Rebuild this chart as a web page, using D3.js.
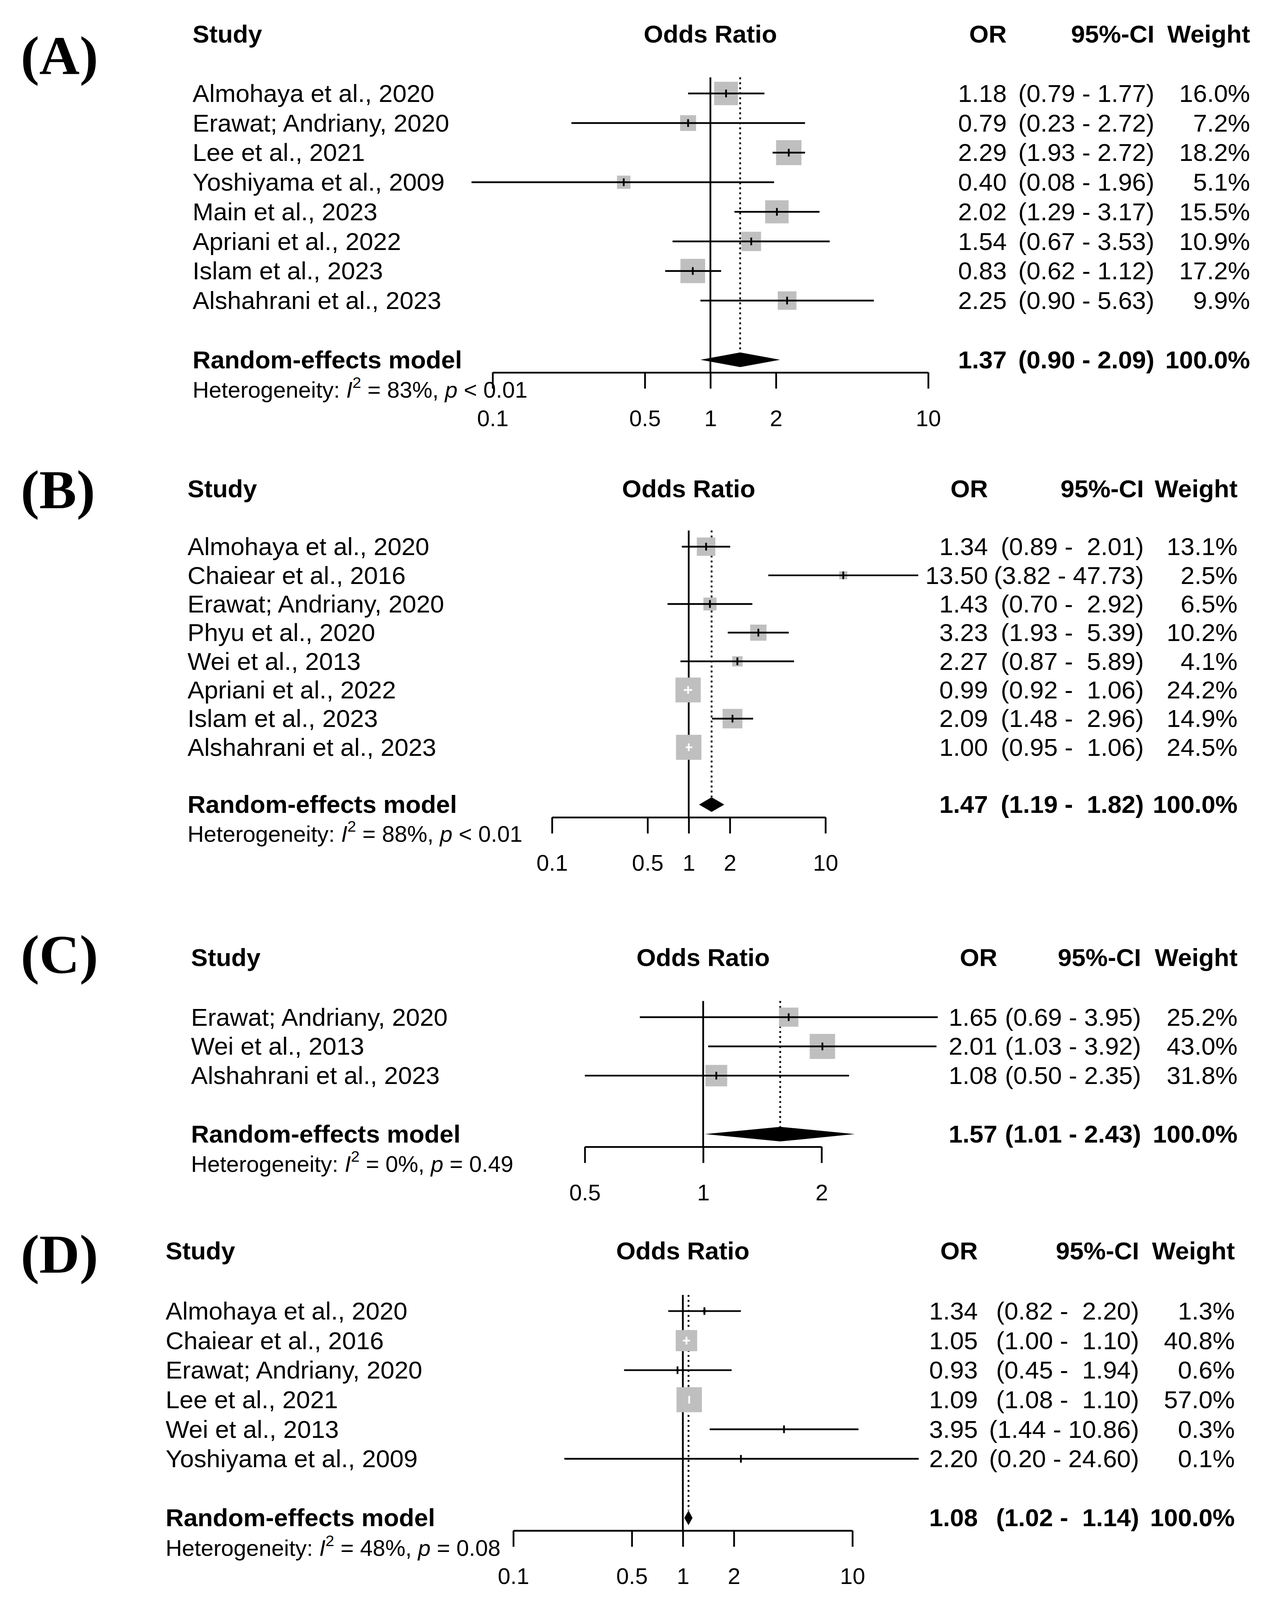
<!DOCTYPE html>
<html>
<head>
<meta charset="utf-8">
<script src="https://cdn.jsdelivr.net/npm/d3@7.9.0/dist/d3.min.js"></script>
<style>
    html, body { margin: 0; padding: 0; background: #fff; overflow: hidden; width: 100%; height: 100%; }
    #chart { width: 100vw; height: 100vh; }
    #chart svg { display: block; width: 100vw; height: 100vh; }
    svg text { white-space: pre; }
</style>
</head>
<body>
<div id="chart"></div>
<script>
// ---- data ----
// (A)
var studiesA = ['Almohaya et al., 2020', 'Erawat; Andriany, 2020', 'Lee et al., 2021', 'Yoshiyama et al., 2009',
    'Main et al., 2023', 'Apriani et al., 2022', 'Islam et al., 2023', 'Alshahrani et al., 2023']
var orA = [1.18, 0.79, 2.29, 0.40, 2.02, 1.54, 0.83, 2.25]
var lowerA = [0.79, 0.23, 1.93, 0.08, 1.29, 0.67, 0.62, 0.90]
var upperA = [1.77, 2.72, 2.72, 1.96, 3.17, 3.53, 1.12, 5.63]
var weightA = [16.0, 7.2, 18.2, 5.1, 15.5, 10.9, 17.2, 9.9]
var pooledA = [1.37, 0.90, 2.09]
var hetA = ['83%', '<', '0.01']
var ticksA = [0.1, 0.5, 1, 2, 10]

// (B)
var studiesB = ['Almohaya et al., 2020', 'Chaiear et al., 2016', 'Erawat; Andriany, 2020', 'Phyu et al., 2020',
    'Wei et al., 2013', 'Apriani et al., 2022', 'Islam et al., 2023', 'Alshahrani et al., 2023']
var orB = [1.34, 13.50, 1.43, 3.23, 2.27, 0.99, 2.09, 1.00]
var lowerB = [0.89, 3.82, 0.70, 1.93, 0.87, 0.92, 1.48, 0.95]
var upperB = [2.01, 47.73, 2.92, 5.39, 5.89, 1.06, 2.96, 1.06]
var weightB = [13.1, 2.5, 6.5, 10.2, 4.1, 24.2, 14.9, 24.5]
var pooledB = [1.47, 1.19, 1.82]
var hetB = ['88%', '<', '0.01']
var ticksB = [0.1, 0.5, 1, 2, 10]

// (C)
var studiesC = ['Erawat; Andriany, 2020', 'Wei et al., 2013', 'Alshahrani et al., 2023']
var orC = [1.65, 2.01, 1.08]
var lowerC = [0.69, 1.03, 0.50]
var upperC = [3.95, 3.92, 2.35]
var weightC = [25.2, 43.0, 31.8]
var pooledC = [1.57, 1.01, 2.43]
var hetC = ['0%', '=', '0.49']
var ticksC = [0.5, 1, 2]

// (D)
var studiesD = ['Almohaya et al., 2020', 'Chaiear et al., 2016', 'Erawat; Andriany, 2020', 'Lee et al., 2021',
    'Wei et al., 2013', 'Yoshiyama et al., 2009']
var orD = [1.34, 1.05, 0.93, 1.09, 3.95, 2.20]
var lowerD = [0.82, 1.00, 0.45, 1.08, 1.44, 0.20]
var upperD = [2.20, 1.10, 1.94, 1.10, 10.86, 24.60]
var weightD = [1.3, 40.8, 0.6, 57.0, 0.3, 0.1]
var pooledD = [1.08, 1.02, 1.14]
var hetD = ['48%', '=', '0.08']
var ticksD = [0.1, 0.5, 1, 2, 10]

// ---- layout (pixel positions per panel) ----
var panels = [
    { tag: '(A)', tagY: 193, labelX: 493, headY: 111, row0: 243, step: 76.9, x0: 1261, x1: 2376, orX: 2577, ciX: 2955, wX: 3200,
      studies: studiesA, or: orA, lo: lowerA, hi: upperA, w: weightA, pooled: pooledA, het: hetA, ticks: ticksA },
    { tag: '(B)', tagY: 1321, labelX: 480, headY: 1293, row0: 1421, step: 74.5, x0: 1413, x1: 2113, orX: 2529, ciX: 2928, wX: 3168,
      studies: studiesB, or: orB, lo: lowerB, hi: upperB, w: weightB, pooled: pooledB, het: hetB, ticks: ticksB },
    { tag: '(C)', tagY: 2529, labelX: 489, headY: 2511, row0: 2644, step: 76, x0: 1497, x1: 2103, orX: 2553, ciX: 2921, wX: 3168,
      studies: studiesC, or: orC, lo: lowerC, hi: upperC, w: weightC, pooled: pooledC, het: hetC, ticks: ticksC },
    { tag: '(D)', tagY: 3308, labelX: 424, headY: 3274, row0: 3408, step: 76.8, x0: 1314, x1: 2182, orX: 2503, ciX: 2916, wX: 3161,
      studies: studiesD, or: orD, lo: lowerD, hi: upperD, w: weightD, pooled: pooledD, het: hetD, ticks: ticksD }
]

var W = 3251, H = 4159
var SANS = 'Liberation Sans, Arial, Helvetica, sans-serif'
var SERIF = 'Liberation Serif, Times New Roman, serif'
var FS = 64, FS_SMALL = 58
var SQ_MAX = 65, DIA_H = 19, LW = 4.5
var GRAY = '#bfbfbf'

var f2 = d3.format('.2f')
var f1 = d3.format('.1f')

// the drawing is laid out on a 3251 x 4159 grid and stretched to whatever the viewport really is
var svg = d3.select('#chart').append('svg')
    .attr('viewBox', '0 0 ' + W + ' ' + H)
    .attr('preserveAspectRatio', 'none')
    .style('background', '#fff')

function txt(g, x, y, s, anchor, bold, size) {
    return g.append('text')
        .attr('x', x).attr('y', y)
        .attr('text-anchor', anchor || 'start')
        .attr('font-family', SANS)
        .attr('font-size', size || FS)
        .attr('font-weight', bold ? 'bold' : 'normal')
        .attr('fill', '#000')
        .text(s)
}

function pad(s, n) {
    while (s.length < n) s = ' ' + s
    return s
}

function drawPanel(p) {
    var g = svg.append('g')
    var n = p.studies.length
    var x = d3.scaleLog().domain([p.ticks[0], p.ticks[p.ticks.length - 1]]).range([p.x0, p.x1])

    var reY = p.row0 + (n + 1) * p.step
    var hetY = reY + p.step + 1
    var axisY = reY + 33
    var refTop = p.row0 - 42
    var wmax = d3.max(p.w)

    var loLen = d3.max(p.lo.concat([p.pooled[1]]), function (v) { return f2(v).length })
    var hiLen = d3.max(p.hi.concat([p.pooled[2]]), function (v) { return f2(v).length })
    function ci(lo, hi) { return '(' + pad(f2(lo), loLen) + ' - ' + pad(f2(hi), hiLen) + ')' }

    // panel tag
    g.append('text')
        .attr('x', 53).attr('y', p.tagY)
        .attr('font-family', SERIF).attr('font-weight', 'bold').attr('font-size', 143)
        .text(p.tag)

    // headers
    txt(g, p.labelX, p.headY, 'Study', 'start', true)
    txt(g, x(Math.sqrt(p.ticks[0] * p.ticks[p.ticks.length - 1])), p.headY, 'Odds Ratio', 'middle', true)
    txt(g, p.orX, p.headY, 'OR', 'end', true)
    txt(g, p.ciX, p.headY, '95%-CI', 'end', true)
    txt(g, p.wX, p.headY, 'Weight', 'end', true)

    // reference line at 1 and pooled dotted line
    g.append('line')
        .attr('x1', x(1)).attr('x2', x(1)).attr('y1', refTop).attr('y2', axisY)
        .attr('stroke', '#000').attr('stroke-width', LW)
    g.append('line')
        .attr('x1', x(p.pooled[0])).attr('x2', x(p.pooled[0])).attr('y1', refTop).attr('y2', reY - DIA_H)
        .attr('stroke', '#000').attr('stroke-width', LW).attr('stroke-dasharray', '5,8')

    // study rows
    var rows = p.studies.map(function (s, i) {
        return { name: s, or: p.or[i], lo: p.lo[i], hi: p.hi[i], w: p.w[i], cy: p.row0 + i * p.step }
    })

    var r = g.selectAll('g.row').data(rows).enter().append('g').attr('class', 'row')

    r.append('rect')
        .attr('x', function (d) { return x(d.or) - SQ_MAX * Math.sqrt(d.w / wmax) / 2 })
        .attr('y', function (d) { return d.cy - SQ_MAX * Math.sqrt(d.w / wmax) / 2 })
        .attr('width', function (d) { return SQ_MAX * Math.sqrt(d.w / wmax) })
        .attr('height', function (d) { return SQ_MAX * Math.sqrt(d.w / wmax) })
        .attr('fill', GRAY)

    // CI drawn white when it fits inside its square
    function lineCol(d) {
        var half = SQ_MAX * Math.sqrt(d.w / wmax) / 2
        var inside = x(d.lo) >= x(d.or) - half && x(d.hi) <= x(d.or) + half
        return inside ? '#fff' : '#000'
    }

    r.append('line')
        .attr('x1', function (d) { return x(d.lo) })
        .attr('x2', function (d) { return x(d.hi) })
        .attr('y1', function (d) { return d.cy })
        .attr('y2', function (d) { return d.cy })
        .attr('stroke', lineCol).attr('stroke-width', LW)

    r.append('line')
        .attr('x1', function (d) { return x(d.or) })
        .attr('x2', function (d) { return x(d.or) })
        .attr('y1', function (d) { return d.cy - 10 })
        .attr('y2', function (d) { return d.cy + 10 })
        .attr('stroke', lineCol).attr('stroke-width', LW)

    rows.forEach(function (d) {
        txt(g, p.labelX, d.cy + 22, d.name, 'start', false)
        txt(g, p.orX, d.cy + 22, f2(d.or), 'end', false)
        txt(g, p.ciX, d.cy + 22, ci(d.lo, d.hi), 'end', false)
        txt(g, p.wX, d.cy + 22, f1(d.w) + '%', 'end', false)
    })

    // pooled diamond
    var pl = p.pooled
    g.append('polygon')
        .attr('points', [
            [x(pl[1]), reY], [x(pl[0]), reY - DIA_H], [x(pl[2]), reY], [x(pl[0]), reY + DIA_H]
        ].map(function (q) { return q.join(',') }).join(' '))
        .attr('fill', '#000')

    txt(g, p.labelX, reY + 22, 'Random-effects model', 'start', true)
    txt(g, p.orX, reY + 22, f2(pl[0]), 'end', true)
    txt(g, p.ciX, reY + 22, ci(pl[1], pl[2]), 'end', true)
    txt(g, p.wX, reY + 22, '100.0%', 'end', true)

    // heterogeneity
    var ht = txt(g, p.labelX, hetY + 21, '', 'start', false, FS_SMALL)
    ht.append('tspan').text('Heterogeneity: ')
    ht.append('tspan').attr('font-style', 'italic').text('I')
    ht.append('tspan').attr('font-size', 40).attr('dy', -26).text('2')
    ht.append('tspan').attr('dy', 26).text(' = ' + p.het[0] + ', ')
    ht.append('tspan').attr('font-style', 'italic').text('p')
    ht.append('tspan').text(' ' + p.het[1] + ' ' + p.het[2])

    // x axis
    var ax = g.append('g')
        .attr('transform', 'translate(0,' + axisY + ')')
        .call(d3.axisBottom(x).tickValues(p.ticks).tickFormat(d3.format('~g'))
            .tickSizeInner(42).tickSizeOuter(0).tickPadding(56))
    ax.attr('font-family', SANS).attr('font-size', FS_SMALL)
    ax.select('.domain').attr('stroke', '#000').attr('stroke-width', LW)
    ax.selectAll('.tick line').attr('stroke', '#000').attr('stroke-width', LW)
    ax.selectAll('.tick text').attr('fill', '#000')
}

panels.forEach(drawPanel)
</script>
</body>
</html>
